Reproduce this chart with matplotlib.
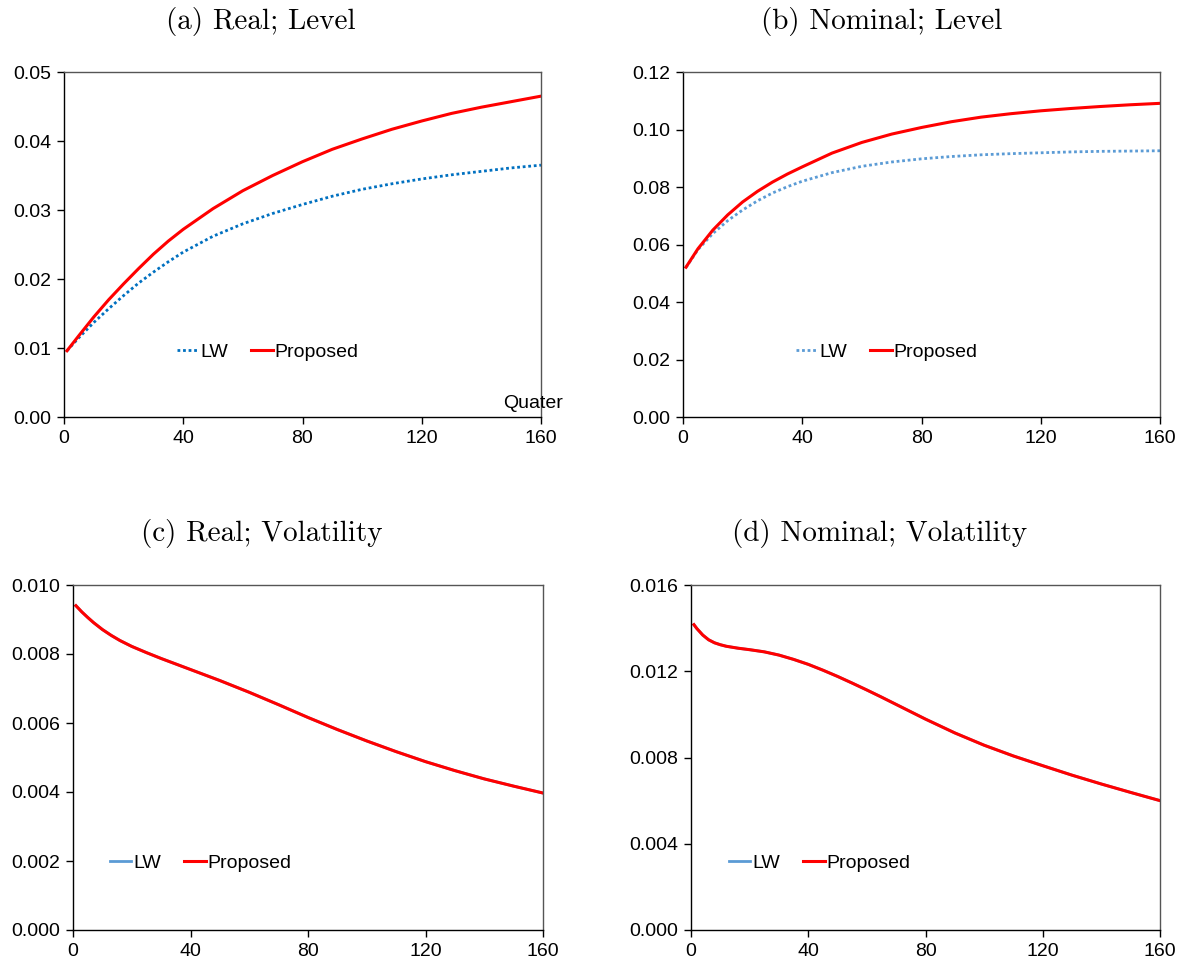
import matplotlib
matplotlib.use("Agg")
import matplotlib.pyplot as plt

q_ab = [1, 5, 10, 15, 20, 25, 30, 35, 40, 50, 60, 70, 80, 90, 100, 110, 120, 130, 140, 150, 160]

# (a) real level
real_lw = [0.0096, 0.0115, 0.0137, 0.0157, 0.0176, 0.0194, 0.0210, 0.0225, 0.0239, 0.0262, 0.0280,
           0.0295, 0.0308, 0.0320, 0.0330, 0.0338, 0.0345, 0.0351, 0.0356, 0.0361, 0.0365]
real_prop = [0.0096, 0.0118, 0.0145, 0.0170, 0.0193, 0.0215, 0.0236, 0.0255, 0.0272, 0.0302, 0.0328,
             0.0350, 0.0370, 0.0388, 0.0403, 0.0417, 0.0429, 0.0440, 0.0449, 0.0457, 0.0465]

# (b) nominal level
nom_lw = [0.0520, 0.0582, 0.0638, 0.0683, 0.0720, 0.0752, 0.0779, 0.0801, 0.0820, 0.0850, 0.0872,
          0.0887, 0.0898, 0.0906, 0.0912, 0.0916, 0.0919, 0.0922, 0.0924, 0.0925, 0.0926]
nom_prop = [0.0521, 0.0585, 0.0650, 0.0703, 0.0748, 0.0785, 0.0817, 0.0845, 0.0870, 0.0918, 0.0955,
            0.0984, 0.1007, 0.1027, 0.1043, 0.1055, 0.1065, 0.1073, 0.1080, 0.1086, 0.1091]

# (c) real volatility (LW lies under the proposed line)
q_c = [1, 3, 5, 7, 10, 13, 16, 20, 25, 30, 40, 50, 60, 70, 80, 90, 100, 110, 120, 130, 140, 150, 160]
real_vol_prop = [0.00940, 0.00922, 0.00906, 0.00891, 0.00871, 0.00854, 0.00839, 0.00822, 0.00804,
                 0.00787, 0.00755, 0.00723, 0.00689, 0.00653, 0.00616, 0.00581, 0.00548, 0.00517,
                 0.00488, 0.00462, 0.00438, 0.00417, 0.00397]
real_vol_lw = real_vol_prop

# (d) nominal volatility (LW lies under the proposed line)
q_d = [1, 2, 4, 6, 8, 10, 12, 16, 20, 25, 30, 35, 40, 45, 50, 55, 60, 65, 70, 80, 90, 100, 110,
       120, 130, 140, 150, 160]
nom_vol_prop = [0.01416, 0.01398, 0.01368, 0.01346, 0.01332, 0.01323, 0.01316, 0.01307, 0.01300,
                0.01290, 0.01275, 0.01255, 0.01232, 0.01205, 0.01176, 0.01145, 0.01113, 0.01080,
                0.01046, 0.00978, 0.00914, 0.00857, 0.00807, 0.00762, 0.00718, 0.00677, 0.00638,
                0.00600]
nom_vol_lw = nom_vol_prop

xticks = [0, 40, 80, 120, 160]
yticks_a = [0.00, 0.01, 0.02, 0.03, 0.04, 0.05]
yticks_b = [0.00, 0.02, 0.04, 0.06, 0.08, 0.10, 0.12]
yticks_c = [0.000, 0.002, 0.004, 0.006, 0.008, 0.010]
yticks_d = [0.000, 0.004, 0.008, 0.012, 0.016]

titles = ["(a) Real; Level", "(b) Nominal; Level", "(c) Real; Volatility", "(d) Nominal; Volatility"]

W, H = 1185, 965
fig = plt.figure(figsize=(W / 100, H / 100), dpi=100)
plt.rcParams["font.family"] = ["Liberation Sans", "DejaVu Sans"]

RED = "#ff0000"
BLUE_DARK = "#0070c0"
BLUE = "#5b9bd5"


def px_axes(left, top, right, bottom):
    return fig.add_axes([left / W, 1 - bottom / H, (right - left) / W, (bottom - top) / H])


def style(ax, yticks, fmt):
    ax.set_xlim(0, 160)
    ax.set_ylim(yticks[0], yticks[-1])
    ax.set_xticks(xticks)
    ax.set_xticklabels([str(t) for t in xticks])
    ax.set_yticks(yticks)
    ax.set_yticklabels([fmt.format(t) for t in yticks])
    ax.tick_params(direction="out", length=5, width=1, labelsize=14, pad=4)
    for s in ["top", "right"]:
        ax.spines[s].set_color("#555555")
    for s in ["left", "bottom"]:
        ax.spines[s].set_color("black")
    for s in ax.spines.values():
        s.set_linewidth(1)


def legend(ax, x, y):
    ax.legend(loc="center left", bbox_to_anchor=(x / W, 1 - y / H), bbox_transform=fig.transFigure,
              ncol=2, frameon=False, fontsize=14, handlelength=1.1, handletextpad=0.1,
              columnspacing=1.2, borderpad=0, borderaxespad=0)


ax = px_axes(64, 72, 541, 417)
ax.plot(q_ab, real_lw, color=BLUE_DARK, lw=2, ls=(0, (1, 1)), label="LW")
ax.plot(q_ab, real_prop, color=RED, lw=2.2, label="Proposed")
style(ax, yticks_a, "{:.2f}")
legend(ax, 177, 352)
fig.text(503 / W, 1 - 404 / H, "Quater", fontsize=14, ha="left", va="center")

ax = px_axes(683, 72, 1160, 417)
ax.plot(q_ab, nom_lw, color=BLUE, lw=2, ls=(0, (1, 1)), label="LW")
ax.plot(q_ab, nom_prop, color=RED, lw=2.2, label="Proposed")
style(ax, yticks_b, "{:.2f}")
legend(ax, 796, 352)

ax = px_axes(73, 585, 543, 930)
ax.plot(q_c, real_vol_lw, color=BLUE, lw=2, label="LW")
ax.plot(q_c, real_vol_prop, color=RED, lw=2.2, label="Proposed")
style(ax, yticks_c, "{:.3f}")
legend(ax, 110, 863)

ax = px_axes(691, 585, 1160, 930)
ax.plot(q_d, nom_vol_lw, color=BLUE, lw=2, label="LW")
ax.plot(q_d, nom_vol_prop, color=RED, lw=2.2, label="Proposed")
style(ax, yticks_d, "{:.3f}")
legend(ax, 729, 863)

title_pos = [(261, 22), (882, 22), (262, 533), (880, 533)]
for t, (x, y) in zip(titles, title_pos):
    fig.text(x / W, 1 - y / H, t, fontsize=21, family=["cmr10", "DejaVu Serif"], ha="center", va="center")

fig.savefig("out.png", dpi=100)
